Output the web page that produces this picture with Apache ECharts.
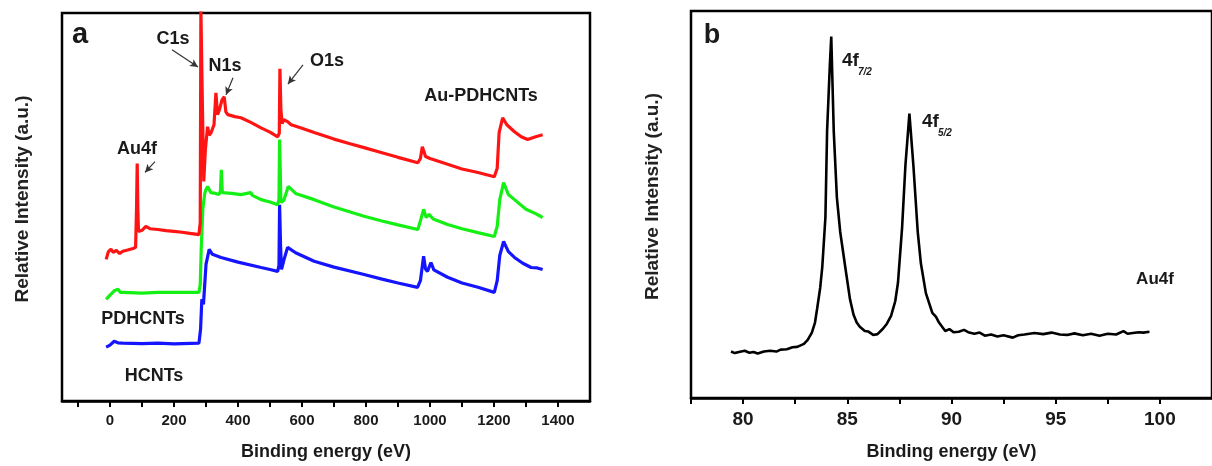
<!DOCTYPE html>
<html>
<head>
<meta charset="utf-8">
<script src="https://cdn.jsdelivr.net/npm/echarts@6/dist/echarts.min.js"></script>
<style>
html,body{margin:0;padding:0;background:#fff;}
#chart{width:1212px;height:466px;}
</style>
</head>
<body>
<div id="chart"></div>
<script>
// ---- Panel a: XPS survey spectra (binding energy eV, intensity a.u.) ----
var auPdhcnts = [[-12,36.5],[-5,38.5],[3,39.1],[10,38.3],[20,38.8],[30,38.0],[40,38.6],[55,38.9],[72,39.3],[80,39.6],[83,50],[85,61.2],[87,49.4],[89,43.7],[100,44.0],[112,45.0],[125,44.4],[150,44.2],[175,43.9],[200,43.7],[225,43.5],[250,43.2],[278,42.9],[282,46],[284,101],[286,101],[289,75],[293,56.6],[298,64.8],[305,70.7],[310,68.5],[316,69.2],[325,71.2],[331,79.4],[336,73.8],[342,75.1],[350,77.6],[357,78.4],[362,74.5],[368,73.8],[390,73.3],[409,73.0],[440,71.8],[472,70.4],[500,69.3],[524,68.1],[529,69],[531,85.6],[534,75.1],[538,71.5],[543,72.5],[555,72.0],[566,71.2],[600,70.3],[638,69.2],[700,67.5],[750,66.3],[794,65.3],[850,64.0],[900,62.8],[962,61.4],[970,62.5],[976,65.5],[980,65.3],[986,63.0],[992,63.5],[1000,62.5],[1055,61.0],[1100,59.8],[1150,58.9],[1201,57.8],[1210,60],[1216,69.2],[1227,73.0],[1240,71.2],[1264,69.4],[1285,68.1],[1305,67.4],[1330,68.1],[1352,68.6]];
var pdhcnts = [[-12,26.2],[0,27.3],[5,27.8],[15,28.5],[25,28.8],[32,28.0],[40,28.0],[100,27.8],[150,28.0],[200,28.0],[278,28.0],[282,30],[285,39.1],[290,49.4],[296,53.5],[300,54.5],[305,55.3],[315,53.7],[330,53.5],[340,53.2],[345,54],[348,59.6],[351,53.7],[380,53.5],[409,53.2],[440,53.7],[445,53.0],[472,51.9],[500,51.3],[524,50.6],[528,52],[530,67.4],[532,60],[534,51.2],[543,51.7],[557,55.3],[580,53.5],[638,51.9],[700,50.0],[794,47.6],[850,46.4],[900,45.4],[962,44.2],[972,47],[980,49.4],[988,47.3],[997,48.1],[1010,46.9],[1055,45.5],[1100,44.4],[1150,43.4],[1201,42.4],[1210,45],[1218,51.9],[1230,56.3],[1245,53.2],[1264,51.9],[1300,49.4],[1330,48.3],[1352,47.3]];
var hcnts = [[-12,13.9],[0,14.4],[13,15.4],[25,15.0],[40,14.9],[100,14.8],[150,14.9],[200,14.7],[278,14.9],[283,18.5],[287,26.2],[292,24.9],[296,30],[300,35.2],[310,39.1],[320,37.8],[347,37.0],[400,35.8],[472,34.4],[500,33.9],[524,33.4],[528,35],[530,50.6],[533,40],[536,33.9],[545,36.8],[555,39.6],[580,38.2],[638,36.0],[700,34.5],[794,32.6],[850,31.4],[900,30.4],[961,29.3],[970,31],[980,37.3],[986,34],[992,33.4],[1003,35.7],[1012,33.8],[1055,31.9],[1100,30.4],[1150,29.3],[1201,28.0],[1210,31],[1218,37.5],[1230,41.1],[1245,38.5],[1264,37.0],[1290,35.5],[1316,34.4],[1335,34.3],[1352,33.9]];
var ticksA = [-100,0,100,200,300,400,500,600,700,800,900,1000,1100,1200,1300,1400];
var labelsA = [0,200,400,600,800,1000,1200,1400];
// annotation arrows in data space [from, to]
var arrowsA = [
  [[193.75,90.5],[275,86.1]],
  [[384.4,83.3],[362.5,78.9]],
  [[603,86.6],[556,81.7]],
  [[140.6,61.7],[109.4,58.9]]
];

// ---- Panel b: Au4f high resolution spectrum ----
var au4f = [[79.42,12.0],[79.6,11.6],[79.8,11.9],[80.08,12.2],[80.3,11.7],[80.5,11.9],[80.7,11.5],[81.0,12.0],[81.3,12.2],[81.6,12.0],[81.8,12.5],[82.1,12.6],[82.37,13.1],[82.6,13.2],[82.92,14.0],[83.1,15.0],[83.3,16.9],[83.45,19.5],[83.55,23.0],[83.7,28.5],[83.8,33.9],[83.95,46.7],[84.03,68.9],[84.16,85.7],[84.23,93.4],[84.35,68.9],[84.5,51.8],[84.66,42.9],[84.9,33.9],[85.13,25.5],[85.3,21.5],[85.45,19.5],[85.6,18.4],[85.84,17.3],[86.0,17.2],[86.24,16.3],[86.45,16.5],[86.71,17.9],[86.9,19.2],[87.1,21.2],[87.3,25.0],[87.43,29.7],[87.63,44.1],[87.79,60.2],[87.98,73.5],[88.17,60.2],[88.38,42.9],[88.53,34.8],[88.77,27.1],[89.08,22.0],[89.25,21.0],[89.4,19.5],[89.7,17.3],[89.9,17.8],[90.1,17.0],[90.35,17.1],[90.6,17.6],[90.8,17.0],[91.1,16.6],[91.35,16.9],[91.6,16.1],[91.9,16.4],[92.2,15.9],[92.5,16.2],[92.94,15.6],[93.2,16.2],[93.5,16.4],[93.98,16.8],[94.4,16.5],[94.8,16.9],[95.2,16.4],[95.55,16.3],[95.9,16.7],[96.3,16.2],[96.7,16.6],[97.1,16.1],[97.5,16.6],[97.9,16.4],[98.25,17.3],[98.45,16.6],[98.7,16.8],[99.0,17.0],[99.2,16.9],[99.5,17.1]];

var FONT = 'Liberation Sans, Arial, sans-serif';
var chart = echarts.init(document.getElementById('chart'), null, {renderer:'canvas'});

function xAxisBase(extra){
  return Object.assign({
    type:'value',
    axisLine:{show:true, onZero:false, lineStyle:{color:'#000', width:2.5}},
    axisTick:{show:true, inside:false, length:6, lineStyle:{color:'#000', width:2}},
    splitLine:{show:false},
    nameLocation:'middle',
    nameTextStyle:{fontFamily:FONT, fontWeight:'bold', fontSize:18, color:'#1a1a1a'}
  }, extra);
}
function yAxisBase(extra){
  return Object.assign({
    type:'value', min:0, max:100,
    axisLine:{show:false}, axisTick:{show:false}, axisLabel:{show:false}, splitLine:{show:false},
    name:'Relative Intensity (a.u.)',
    nameLocation:'middle',
    nameTextStyle:{fontFamily:FONT, fontWeight:'bold', fontSize:19, color:'#222', padding:[0,0,0,16]}
  }, extra);
}

var arrowData = arrowsA.map(function(a){ return [{coord:a[0]},{coord:a[1]}]; });

function txt(x,y,s,size,opts){
  opts = opts || {};
  return {type:'text', x:x, y:y, z:100, silent:true, style:{
    text:s, fill:opts.color||'#1a1a1a', font:(opts.italic?'italic ':'')+'bold '+size+'px '+FONT,
    align:opts.align||'center', verticalAlign:'middle'}};
}

chart.setOption({
  animation:false,
  backgroundColor:'#fff',
  grid:[
    {left:62, top:13, width:528, height:389, show:true, borderColor:'#000', borderWidth:2.5, backgroundColor:'transparent'},
    {left:691, top:11, width:528, height:392, show:true, borderColor:'#000', borderWidth:2.5, backgroundColor:'transparent'}
  ],
  xAxis:[
    xAxisBase({gridIndex:0, min:-150, max:1500,
      axisTick:{show:true, inside:false, length:6, customValues:ticksA, lineStyle:{color:'#000', width:2}},
      axisLabel:{customValues:labelsA, margin:12, fontFamily:FONT, fontWeight:'bold', fontSize:15, color:'#1a1a1a',
        formatter:function(v){ return String(v); }},
      name:'Binding energy (eV)', nameGap:42}),
    xAxisBase({gridIndex:1, min:77.5, max:102.5, interval:2.5,
      axisLabel:{margin:12, fontFamily:FONT, fontWeight:'bold', fontSize:19, color:'#1a1a1a',
        showMinLabel:true, showMaxLabel:false,
        formatter:function(v){ return (Math.abs(v % 5) < 1e-6) ? String(v) : ''; }},
      name:'Binding energy (eV)', nameGap:45})
  ],
  yAxis:[
    yAxisBase({gridIndex:0, nameGap:30}),
    yAxisBase({gridIndex:1, nameGap:29})
  ],
  series:[
    {name:'HCNTs', type:'line', xAxisIndex:0, yAxisIndex:0, data:hcnts, showSymbol:false, symbol:'none',
      lineStyle:{color:'#1414ff', width:3.2}, clip:true},
    {name:'PDHCNTs', type:'line', xAxisIndex:0, yAxisIndex:0, data:pdhcnts, showSymbol:false, symbol:'none',
      lineStyle:{color:'#14f014', width:3.2}, clip:true},
    {name:'Au-PDHCNTs', type:'line', xAxisIndex:0, yAxisIndex:0, data:auPdhcnts, showSymbol:false, symbol:'none',
      lineStyle:{color:'#ff1414', width:3.2}, clip:true,
      markLine:{silent:true, symbol:['none','arrow'], symbolSize:[6,8], label:{show:false},
        lineStyle:{color:'#333', width:1.2, type:'solid'}, emphasis:{disabled:true}, data:arrowData}},
    {name:'Au4f', type:'line', xAxisIndex:1, yAxisIndex:1, data:au4f, showSymbol:false, symbol:'none',
      lineStyle:{color:'#000', width:2.6}, clip:true}
  ],
  graphic:[
    txt(80,35,'a',29),
    txt(173,39,'C1s',18),
    txt(225,66,'N1s',18),
    txt(327,61,'O1s',18),
    txt(137,149,'Au4f',18),
    txt(481,96,'Au-PDHCNTs',18),
    txt(143,319,'PDHCNTs',18),
    txt(154,376,'HCNTs',18),
    txt(712,36,'b',27),
    txt(842,61,'4f',19,{align:'left'}),
    txt(858,72,'7/2',10,{align:'left', italic:true}),
    txt(922,122,'4f',19,{align:'left'}),
    txt(938,133,'5/2',10,{align:'left', italic:true}),
    txt(1155,279,'Au4f',17)
  ]
});
</script>
</body>
</html>
